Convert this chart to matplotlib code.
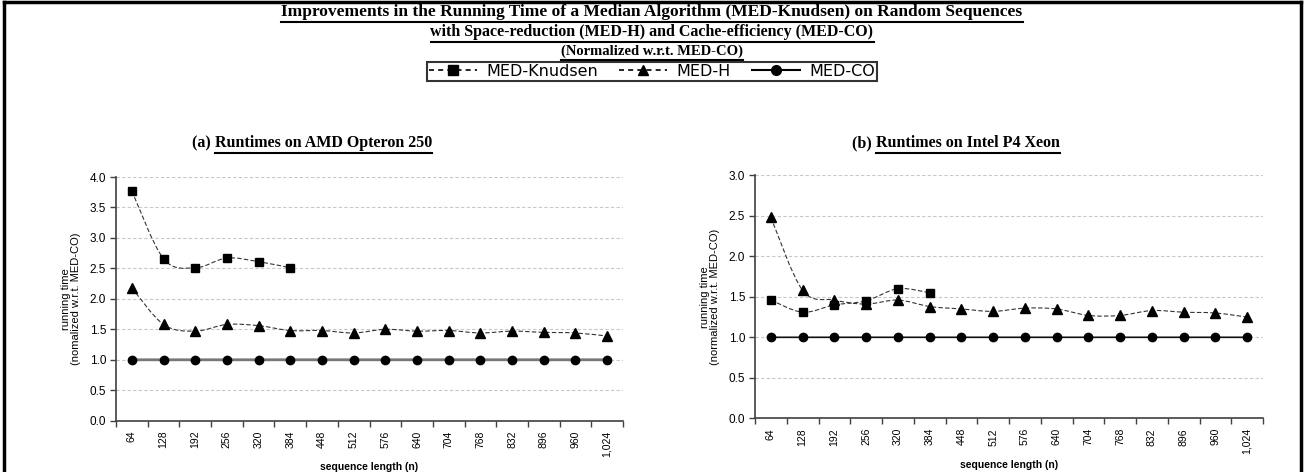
import matplotlib
matplotlib.use("Agg")
import matplotlib.pyplot as plt
import numpy as np
from matplotlib.path import Path
from matplotlib.patches import PathPatch
from matplotlib.lines import Line2D

# ---------------- data ----------------
categories = ["64", "128", "192", "256", "320", "384", "448", "512", "576",
              "640", "704", "768", "832", "896", "960", "1,024"]

amd_knudsen = [3.77, 2.66, 2.51, 2.67, 2.61, 2.51]
amd_medh = [2.18, 1.58, 1.47, 1.58, 1.56, 1.48, 1.48, 1.44, 1.50, 1.47,
            1.48, 1.44, 1.47, 1.45, 1.44, 1.39]
amd_medco = [1.0] * 16

intel_knudsen = [1.46, 1.31, 1.40, 1.45, 1.60, 1.55]
intel_medh = [2.48, 1.58, 1.46, 1.41, 1.46, 1.38, 1.35, 1.32, 1.36, 1.35,
              1.27, 1.27, 1.33, 1.31, 1.30, 1.25]
intel_medco = [1.0] * 16

main_title = ["Improvements in the Running Time of a Median Algorithm (MED-Knudsen) on Random Sequences",
              "with Space-reduction (MED-H) and Cache-efficiency (MED-CO)",
              "(Normalized w.r.t. MED-CO)"]
series_names = ["MED-Knudsen", "MED-H", "MED-CO"]

# ---------------- figure ----------------
W, H = 1304, 472
fig = plt.figure(figsize=(W / 100, H / 100), dpi=100)
fig.patch.set_facecolor("white")

TICKFONT = "Liberation Sans"
SERIF = "Liberation Serif"


def smooth_path(xs, ys):
    """Excel-like smoothed line via Bezier segments through the data points."""
    xs = np.asarray(xs, float)
    ys = np.asarray(ys, float)
    n = len(xs)
    verts = [(xs[0], ys[0])]
    codes = [Path.MOVETO]
    t = 1.0 / 6.0
    for i in range(n - 1):
        p0 = np.array([xs[max(i - 1, 0)], ys[max(i - 1, 0)]])
        p1 = np.array([xs[i], ys[i]])
        p2 = np.array([xs[i + 1], ys[i + 1]])
        p3 = np.array([xs[min(i + 2, n - 1)], ys[min(i + 2, n - 1)]])
        c1 = p1 + (p2 - p0) * t
        c2 = p2 - (p3 - p1) * t
        verts += [tuple(c1), tuple(c2), tuple(p2)]
        codes += [Path.CURVE4] * 3
    return Path(verts, codes)


def make_axes(rect, ymax, knud, medh, medco, ylab2, co_color, co_lw):
    ax = fig.add_axes(rect)
    x = np.arange(len(categories))
    ax.set_xlim(-0.5, len(categories) - 0.5)
    ax.set_ylim(0, ymax)
    yt = np.arange(0, ymax + 0.001, 0.5)
    ax.set_yticks(yt)
    ax.set_yticklabels([f"{v:.1f}" for v in yt], fontsize=8.5, family=TICKFONT)
    ax.yaxis.grid(True, color="#c8c8c8", linestyle=(0, (3, 2)), linewidth=0.8)
    ax.set_axisbelow(True)
    ax.set_xticks(np.arange(-0.5, len(categories), 1.0))
    ax.set_xticklabels([])
    ax.set_xticks(x, minor=True)
    ax.set_xticklabels(categories, minor=True, rotation=90, fontsize=7.5,
                       family=TICKFONT)
    ax.tick_params(axis="x", which="major", length=4, direction="out",
                   color="#404040", width=1)
    ax.tick_params(axis="x", which="minor", length=0, pad=7)
    ax.tick_params(axis="y", length=4, direction="out", color="#404040", width=1, pad=3)
    for s in ("top", "right"):
        ax.spines[s].set_visible(False)
    for s in ("left", "bottom"):
        ax.spines[s].set_color("#404040")
        ax.spines[s].set_linewidth(1.2)

    # MED-CO
    ax.add_patch(PathPatch(smooth_path(x, medco), fill=False, edgecolor=co_color,
                           lw=co_lw, zorder=3))
    ax.plot(x, medco, linestyle="none", marker="o", ms=6, color="black", zorder=4)
    # MED-H
    ax.add_patch(PathPatch(smooth_path(x, medh), fill=False, edgecolor="#333333",
                           lw=0.8, linestyle=(0, (4, 2)), zorder=3))
    ax.plot(x, medh, linestyle="none", marker="^", ms=6.5, color="black", zorder=4)
    # MED-Knudsen
    xk = x[:len(knud)]
    ax.add_patch(PathPatch(smooth_path(xk, knud), fill=False, edgecolor="#333333",
                           lw=0.8, linestyle=(0, (4, 2)), zorder=3))
    ax.plot(xk, knud, linestyle="none", marker="s", ms=6, color="black", zorder=4)

    ax.set_xlabel("sequence length (n)", fontsize=7.5, fontweight="bold",
                  family=TICKFONT, labelpad=4)
    ax.set_ylabel("running time\n" + ylab2, fontsize=8, family=TICKFONT,
                  labelpad=6, linespacing=1.1)
    return ax


ax1 = make_axes([116 / W, 1 - 420.7 / H, (623 - 116) / W, (420.7 - 177) / H],
                4.0, amd_knudsen, amd_medh, amd_medco,
                "(nomalized w.r.t. MED-CO)", "#777777", 2.0)
ax2 = make_axes([755 / W, 1 - 418.3 / H, (1263 - 755) / W, (418.3 - 175.3) / H],
                3.0, intel_knudsen, intel_medh, intel_medco,
                "(normalized w.r.t. MED-CO)", "#111111", 1.2)

# ---------------- titles with underlines ----------------
fig.canvas.draw()
renderer = fig.canvas.get_renderer()


def underline_text(t, y_off=2.0, lw=1.5):
    bb = t.get_window_extent(renderer)
    y = bb.y0 - y_off
    fig.add_artist(Line2D([bb.x0 / W, bb.x1 / W], [y / H, y / H], color="black",
                          lw=lw, transform=fig.transFigure))


title_y = [H - 12, H - 32, H - 51.5]
title_size = [12.5, 11.5, 10.5]
for s, yy, fs in zip(main_title, title_y, title_size):
    t = fig.text(0.5, yy / H, s, ha="center", va="center", fontsize=fs,
                 fontweight="bold", family=SERIF)
    fig.canvas.draw()
    underline_text(t)


def sub_title(cx, cy, prefix, body, fs=11.5):
    full = fig.text(cx / W, cy / H, prefix + body, ha="center", va="center",
                    fontsize=fs, fontweight="bold", family=SERIF, alpha=0)
    fig.canvas.draw()
    bb = full.get_window_extent(renderer)
    p = fig.text(bb.x0 / W, cy / H, prefix, ha="left", va="center", fontsize=fs,
                 fontweight="bold", family=SERIF)
    fig.canvas.draw()
    pb = p.get_window_extent(renderer)
    b = fig.text(pb.x1 / W, cy / H, body, ha="left", va="center", fontsize=fs,
                 fontweight="bold", family=SERIF)
    fig.canvas.draw()
    underline_text(b)


sub_title(312, H - 143, "(a) ", "Runtimes on AMD Opteron 250")
sub_title(956, H - 143, "(b) ", "Runtimes on Intel P4 Xeon")

# ---------------- legend ----------------
handles = [
    Line2D([], [], color="black", lw=1.2, linestyle=(0, (3, 2.5)), marker="s", ms=7),
    Line2D([], [], color="black", lw=1.2, linestyle=(0, (3, 2.5)), marker="^", ms=7),
    Line2D([], [], color="black", lw=1.5, linestyle="-", marker="o", ms=7),
]
leg = fig.legend(handles, series_names, loc="center", ncol=3,
                 bbox_to_anchor=(652 / W, 1 - 71.5 / H), frameon=True,
                 fancybox=False, edgecolor="black", handlelength=3.0,
                 columnspacing=1.3, handletextpad=0.6, borderpad=0.15,
                 prop={"family": "DejaVu Sans", "size": 11.5})
leg.get_frame().set_linewidth(1.5)

# ---------------- outer frame ----------------
for xs_, ys_ in [([4 / W, 4 / W], [0, 1 - 2 / H]),
                 ([4 / W, 1 - 3 / W], [1 - 2 / H, 1 - 2 / H]),
                 ([1 - 3 / W, 1 - 3 / W], [0, 1 - 2 / H])]:
    fig.add_artist(Line2D(xs_, ys_, color="black", lw=2.5, transform=fig.transFigure))

fig.savefig("out.png", dpi=100)
